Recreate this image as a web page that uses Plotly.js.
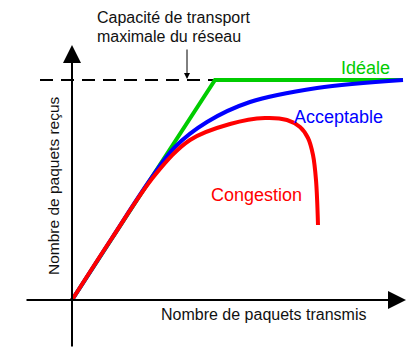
<!DOCTYPE html>
<html>
<head>
<meta charset="utf-8">
<script src="https://cdn.plot.ly/plotly-3.0.1.min.js"></script>
<style>
  html, body { margin: 0; padding: 0; background: #fff; }
  #graph { width: 406px; height: 348px; }
</style>
</head>
<body>
<div id="graph"></div>
<script>
// capacity of the network (same unit as received packets)
const capacity = 220;
const capacityX = [-32, 143];

const idealX = [0, 143, 331];
const idealY = [0, 220, 220];

const acceptableX = [0, 40, 78, 103, 135, 178, 245, 331];
const acceptableY = [0, 62, 120, 153, 178, 198, 212, 220];

const congestionX = [0, 40, 83, 118, 158, 193, 215, 228, 236, 241, 244, 246];
const congestionY = [0, 62, 125, 160, 176, 182, 180, 173, 162, 145, 120, 75];

const font = 'Liberation Sans, Arial, sans-serif';

const capTrace = {
    x: capacityX,
    y: capacityX.map(() => capacity),
    mode: 'lines',
    line: { color: 'black', width: 2, dash: '13px,8px' },
    hoverinfo: 'skip'
};

const idealTrace = {
    x: idealX,
    y: idealY,
    mode: 'lines',
    name: 'Idéale',
    line: { color: '#00cc00', width: 4 }
};

const acceptableTrace = {
    x: acceptableX,
    y: acceptableY,
    mode: 'lines',
    name: 'Acceptable',
    line: { color: '#0000ff', width: 4, shape: 'spline', smoothing: 1 }
};

const congestionTrace = {
    x: congestionX,
    y: congestionY,
    mode: 'lines',
    name: 'Congestion',
    line: { color: '#ff0000', width: 4, shape: 'spline', smoothing: 1 }
};

function label(text, x, y, color, size, extra) {
    return Object.assign({
        text: text, x: x, y: y, xref: 'x', yref: 'y',
        showarrow: false,
        font: { family: font, size: size, color: color }
    }, extra || {});
}

function arrow(x, y, ax, ay, width, size) {
    return {
        text: '', x: x, y: y, ax: ax, ay: ay,
        xref: 'x', yref: 'y', axref: 'x', ayref: 'y',
        showarrow: true, arrowhead: 2, arrowwidth: width, arrowsize: size,
        arrowcolor: 'black', standoff: 0, startstandoff: 0
    };
}

const layout = {
    width: 406,
    height: 348,
    margin: { l: 0, r: 0, t: 0, b: 0 },
    showlegend: false,
    paper_bgcolor: 'white',
    plot_bgcolor: 'white',
    xaxis: { range: [-72, 334], visible: false, fixedrange: true },
    yaxis: { range: [-48, 300], visible: false, fixedrange: true },
    annotations: [
        // axes
        arrow(334, 0, -47, 0, 2, 1.8),
        arrow(0, 255, 0, -48, 2, 1.8),
        // capacity pointer
        arrow(115, 221, 115, 252, 1, 1.2),
        label('Capacité de transport', 23, 283, '#111', 16, { xanchor: 'left' }),
        label('maximale du réseau', 23, 264, '#111', 16, { xanchor: 'left' }),
        label('Idéale', 293, 232, '#00cc00', 18),
        label('Acceptable', 266, 183, '#0000ff', 18),
        label('Congestion', 184, 105, '#ff0000', 18),
        label('Nombre de paquets transmis', 191, -14, '#111', 16),
        label('Nombre de paquets reçus', -19, 114, '#111', 15.5, { textangle: -90 })
    ]
};

Plotly.newPlot('graph', [capTrace, idealTrace, acceptableTrace, congestionTrace], layout,
    { staticPlot: true, displayModeBar: false });
</script>
</body>
</html>
